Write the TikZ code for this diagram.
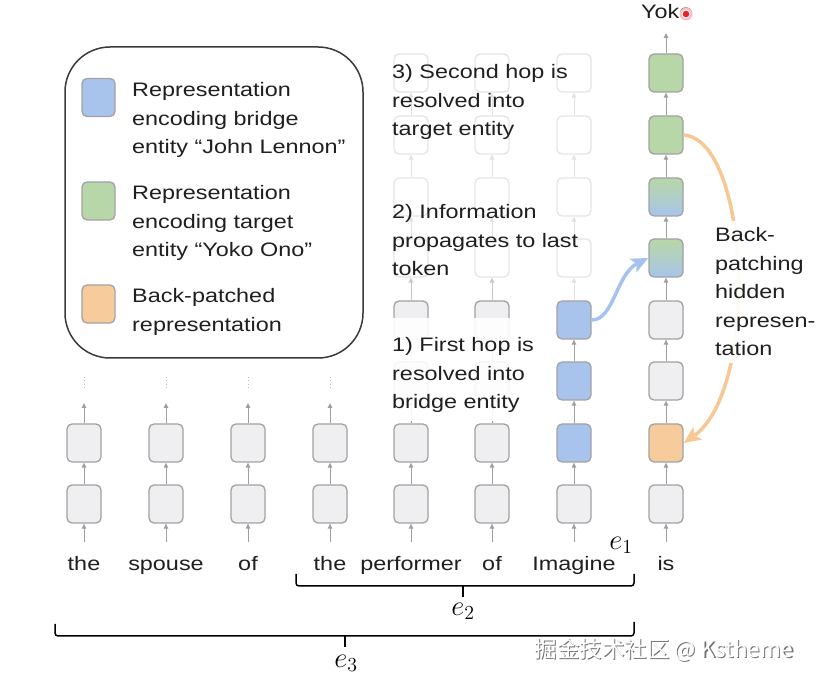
\documentclass[tikz,border=0pt]{standalone}
\usepackage{fontspec}
\setmainfont{Liberation Sans}[FakeStretch=1.2]
\newfontfamily\cjkfont{Noto Sans CJK SC}
\usetikzlibrary{arrows.meta}
\definecolor{boxgray}{HTML}{EFEFF1}
\definecolor{boxline}{HTML}{A2A2A2}
\definecolor{bl}{HTML}{A8C4EC}
\definecolor{gr}{HTML}{B7D7A8}
\definecolor{orng}{HTML}{F8CB9C}
\definecolor{arrgray}{HTML}{A0A0A0}
\definecolor{txt}{HTML}{1F1F1F}
\definecolor{legline}{HTML}{3A3A3A}
\definecolor{blarr}{HTML}{A6C3F0}
\definecolor{orarr}{HTML}{F7C794}
\definecolor{marksred}{HTML}{E8202A}
\newcommand{\bigmath}[1]{\scalebox{1.38}{$#1$}}
\begin{document}
\begin{tikzpicture}[x=1pt,y=-1pt,
  cell/.style={rectangle, rounded corners=5pt, minimum width=34pt, minimum height=38pt, draw=boxline, line width=1.3pt, fill=boxgray, inner sep=0pt},
  faint/.style={cell, draw=boxline!28, fill=white},
  blcell/.style={cell, fill=bl},
  grcell/.style={cell, fill=gr},
  orcell/.style={cell, fill=orng},
  mixcell/.style={cell, top color=gr, bottom color=bl, middle color=gr!55!bl},
  up/.style={draw=arrgray, line width=1pt, -{Triangle[length=5pt,width=4.5pt]}},
  midup/.style={up, draw=arrgray!60},
  fup/.style={up, draw=arrgray!30},
  lbl/.style={font=\fontsize{19.5}{28.5}\selectfont, text=txt, align=left, inner sep=0pt, anchor=base west},
  tok/.style={font=\fontsize{19.5}{24}\selectfont, text=txt, inner sep=0pt, anchor=base},
  mathlbl/.style={font=\fontsize{20}{24}\selectfont, text=black, inner sep=0pt},
  bracep/.style={draw=black, line width=1.5pt, rounded corners=3pt},
  legendbox/.style={draw=legline, line width=1.5pt, rounded corners=45pt, minimum width=298pt, minimum height=311pt, inner sep=0pt},
  bigarrow/.style={line width=3.5pt, -{Stealth[length=17pt,width=15pt,inset=4pt]}}
]
\useasboundingbox (0,0) rectangle (831,684);
\fill[white] (0,0) rectangle (831,684);

% legend
\node[legendbox] (leg) at (214,202.5) {};
\node[blcell, minimum width=33pt] (sw1) at (98.5,97.5) {};
\node[grcell, minimum width=33pt] (sw2) at (98.5,201) {};
\node[orcell, minimum width=33pt] (sw3) at (98.5,304) {};
\node[lbl] (lt1) at (132,154) {Representation\\encoding bridge\\entity “John Lennon”};
\node[lbl] (lt2) at (132,257) {Representation\\encoding target\\entity “Yoko Ono”};
\node[lbl] (lt3) at (132,331.5) {Back-patched\\representation};

% columns 1-4
\foreach \c/\x in {1/84,2/166,3/248,4/330}{
  \coordinate (in\c) at (\x,542);
  \coordinate (top\c) at (\x,403);
  \coordinate (da\c) at (\x,377);
  \coordinate (db\c) at (\x,390);
  \node[cell] (n\c-1) at (\x,504) {};
  \node[cell] (n\c-2) at (\x,443) {};
  \draw[up] (in\c) -- (n\c-1);
  \draw[up] (n\c-1) -- (n\c-2);
  \draw[up] (n\c-2) -- (top\c);
  \draw[draw=arrgray!70, line width=1pt, dash pattern=on 1pt off 2.5pt] (da\c) -- (db\c);
}

% columns 5,6
\foreach \c/\x in {5/411,6/492}{
  \coordinate (in\c) at (\x,542);
  \foreach \r/\y in {1/504,2/443,3/381,4/320}{\node[cell] (n\c-\r) at (\x,\y) {};}
  \foreach \r/\y in {5/258,6/197,7/135,8/73}{\node[faint] (n\c-\r) at (\x,\y) {};}
  \draw[up] (in\c) -- (n\c-1);
  \draw[up] (n\c-1) -- (n\c-2);
  \draw[up] (n\c-2) -- (n\c-3);
  \draw[up] (n\c-3) -- (n\c-4);
  \draw[midup] (n\c-4) -- (n\c-5);
  \draw[fup] (n\c-5) -- (n\c-6);
  \draw[fup] (n\c-6) -- (n\c-7);
  \draw[fup] (n\c-7) -- (n\c-8);
}
\fill[white, fill opacity=0.9] (386,318) rectangle (545,421);

% column 7 (Imagine)
\coordinate (in7) at (574,542);
\node[cell] (n7-1) at (574,504) {};
\node[blcell] (n7-2) at (574,443) {};
\node[blcell] (n7-3) at (574,381) {};
\node[blcell] (n7-4) at (574,320) {};
\foreach \r/\y in {5/258,6/197,7/135,8/73}{\node[faint] (n7-\r) at (574,\y) {};}
\draw[up] (in7) -- (n7-1);
\draw[up] (n7-1) -- (n7-2);
\draw[up] (n7-2) -- (n7-3);
\draw[up] (n7-3) -- (n7-4);
\draw[fup] (n7-4) -- (n7-5);
\draw[fup] (n7-5) -- (n7-6);
\draw[fup] (n7-6) -- (n7-7);
\draw[fup] (n7-7) -- (n7-8);

% column 8 (is)
\coordinate (in8) at (666,542);
\coordinate (top8) at (666,33);
\node[cell] (n8-1) at (666,504) {};
\node[orcell] (n8-2) at (666,443) {};
\node[cell] (n8-3) at (666,381) {};
\node[cell] (n8-4) at (666,320) {};
\node[mixcell] (n8-5) at (666,258) {};
\node[mixcell] (n8-6) at (666,197) {};
\node[grcell] (n8-7) at (666,135) {};
\node[grcell] (n8-8) at (666,73) {};
\draw[up] (in8) -- (n8-1);
\foreach \a/\b in {1/2,2/3,3/4,4/5,5/6,6/7,7/8}{\draw[up] (n8-\a) -- (n8-\b);}
\draw[up] (n8-8) -- (top8);

% output
\node[tok, anchor=base west] (yoko) at (641,19) {Yoko};
\fill[marksred!30] (686,14) circle (6.5pt);
\node[circle, fill=marksred, draw=white, line width=1pt, minimum size=8pt, inner sep=0pt] (dot) at (686,14) {};

% step texts
\node[lbl] (s3) at (392,136) {3) Second hop is\\resolved into\\target entity};
\node[lbl] (s2) at (392,276) {2) Information\\propagates to last\\token};
\node[lbl] (s1) at (392,409) {1) First hop is\\resolved into\\bridge entity};

% colored arrows
\draw[bigarrow, draw=blarr] (n7-4.east) .. controls (614,320) and (616,274) .. (n8-5.west);
\draw[bigarrow, draw=orarr] (n8-7.east) .. controls (750,140) and (760,390) .. (n8-2.east);
\node[lbl, fill=white, fill opacity=0.93, text opacity=1, inner sep=7pt] (bp) at (708,356) {Back-\\patching\\hidden\\represen-\\tation};

% tokens
\node[tok] (w1) at (84,571) {the};
\node[tok] (w2) at (166,571) {spouse};
\node[tok] (w3) at (248,571) {of};
\node[tok] (w4) at (330,571) {the};
\node[tok] (w5) at (411,571) {performer};
\node[tok] (w6) at (492,571) {of};
\node[tok] (w7) at (574,571) {Imagine};
\node[tok] (w8) at (666,571) {is};

% braces
\coordinate (b2l) at (296,574);
\coordinate (b2r) at (634,574);
\coordinate (b2m) at (463,586);
\coordinate (b2t) at (463,597);
\draw[bracep] (b2l) -- (296,586) -- (b2m) -- (634,586) -- (b2r);
\draw[draw=black, line width=1.5pt] (b2m) -- (b2t);
\coordinate (b3l) at (55,624);
\coordinate (b3r) at (634,622);
\coordinate (b3m) at (345,636);
\coordinate (b3t) at (345,647);
\draw[bracep] (b3l) -- (55,636) -- (b3m) -- (634,636) -- (b3r);
\draw[draw=black, line width=1.5pt] (b3m) -- (b3t);
\node[mathlbl] (e1) at (621,545) {\bigmath{e_1}};
\node[mathlbl] (e2) at (463,611) {\bigmath{e_2}};
\node[mathlbl] (e3) at (346,663) {\bigmath{e_3}};

% watermark
\node[font=\cjkfont\fontsize{22.5}{26}\selectfont, text=black!55, inner sep=0pt] (wms) at (665.2,651.2) {掘金技术社区 @ Kstheme};
\node[font=\cjkfont\fontsize{22.5}{26}\selectfont, text=white, inner sep=0pt] (wm) at (664,650) {掘金技术社区 @ Kstheme};
\end{tikzpicture}
\end{document}
